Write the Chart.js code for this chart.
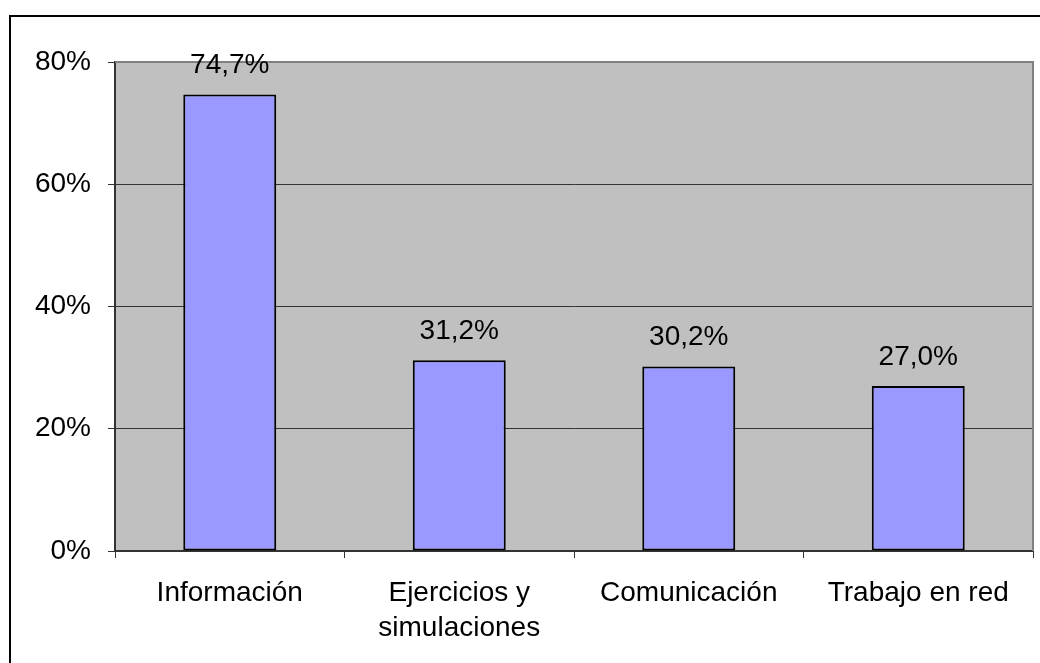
<!DOCTYPE html>
<html>
<head>
<meta charset="utf-8">
<script src="https://cdn.jsdelivr.net/npm/chart.js@4/dist/chart.umd.min.js"></script>
<style>
  html, body { margin: 0; padding: 0; background: #fff; }
  canvas { display: block; }
</style>
</head>
<body>
<canvas id="chart" width="1040" height="663"></canvas>
<script>
// uses de las TIC (porcentaje)
const categories = ["Información", ["Ejercicios y", "simulaciones"], "Comunicación", "Trabajo en red"];
const values = [74.7, 31.2, 30.2, 27.0];
const yTicks = [0, 20, 40, 60, 80];

const FONT = "'Liberation Sans', Arial, sans-serif";
const FONT_SIZE = 28;

// frame, gray plot background and value labels
const decorations = {
    id: "decorations",
    beforeDraw(chart) {
        const { ctx, chartArea: a } = chart;
        ctx.save();
        ctx.fillStyle = "#ffffff";
        ctx.fillRect(0, 0, chart.width, chart.height);
        ctx.strokeStyle = "#000";
        ctx.lineWidth = 2;
        ctx.beginPath();
        ctx.moveTo(10, chart.height);
        ctx.lineTo(10, 16);
        ctx.lineTo(chart.width, 16);
        ctx.stroke();
        ctx.fillStyle = "#C0C0C0";
        ctx.fillRect(a.left, a.top, a.right - a.left, a.bottom - a.top);
        ctx.restore();
    },
    afterDraw(chart) {
        const { ctx, chartArea: a } = chart;
        ctx.save();
        ctx.strokeStyle = "#808080";
        ctx.lineWidth = 2;
        ctx.beginPath();
        ctx.moveTo(a.left, a.top);
        ctx.lineTo(a.right, a.top);
        ctx.lineTo(a.right, a.bottom);
        ctx.stroke();

        ctx.fillStyle = "#000";
        ctx.font = FONT_SIZE + "px " + FONT;
        ctx.textAlign = "center";
        ctx.textBaseline = "middle";
        const meta = chart.getDatasetMeta(0);
        meta.data.forEach((bar, i) => {
            const txt = values[i].toFixed(1).replace(".", ",") + "%";
            ctx.fillText(txt, bar.x, bar.y - 29);
        });
        ctx.restore();
    }
};

new Chart(document.getElementById("chart"), {
    type: "bar",
    data: {
        labels: categories,
        datasets: [{
            data: values,
            backgroundColor: "#9999FF",
            borderColor: "#000",
            borderWidth: 2,
            borderSkipped: false,
            categoryPercentage: 1,
            barPercentage: 0.405
        }]
    },
    options: {
        responsive: false,
        devicePixelRatio: 1,
        animation: false,
        layout: { padding: { left: 0, top: 62, right: 7, bottom: 0 } },
        plugins: { legend: { display: false }, tooltip: { enabled: false } },
        scales: {
            x: {
                offset: true,
                grid: {
                    offset: true,
                    drawOnChartArea: false,
                    color: "#333",
                    tickLength: 7
                },
                border: { color: "#333", width: 2 },
                ticks: {
                    color: "#000",
                    padding: 18,
                    font: { family: FONT, size: FONT_SIZE, lineHeight: 1.25 },
                    maxRotation: 0,
                    autoSkip: false
                },
                afterFit(scale) { scale.height = 112; }
            },
            y: {
                min: 0,
                max: 80,
                afterBuildTicks(scale) { scale.ticks = yTicks.map(v => ({ value: v })); },
                grid: { color: "#333", lineWidth: 1, tickLength: 7 },
                border: { color: "#333", width: 2 },
                ticks: {
                    color: "#000",
                    padding: 17,
                    font: { family: FONT, size: FONT_SIZE },
                    callback: v => v + "%"
                },
                afterFit(scale) { scale.width = 115; }
            }
        }
    },
    plugins: [decorations]
});
</script>
</body>
</html>
